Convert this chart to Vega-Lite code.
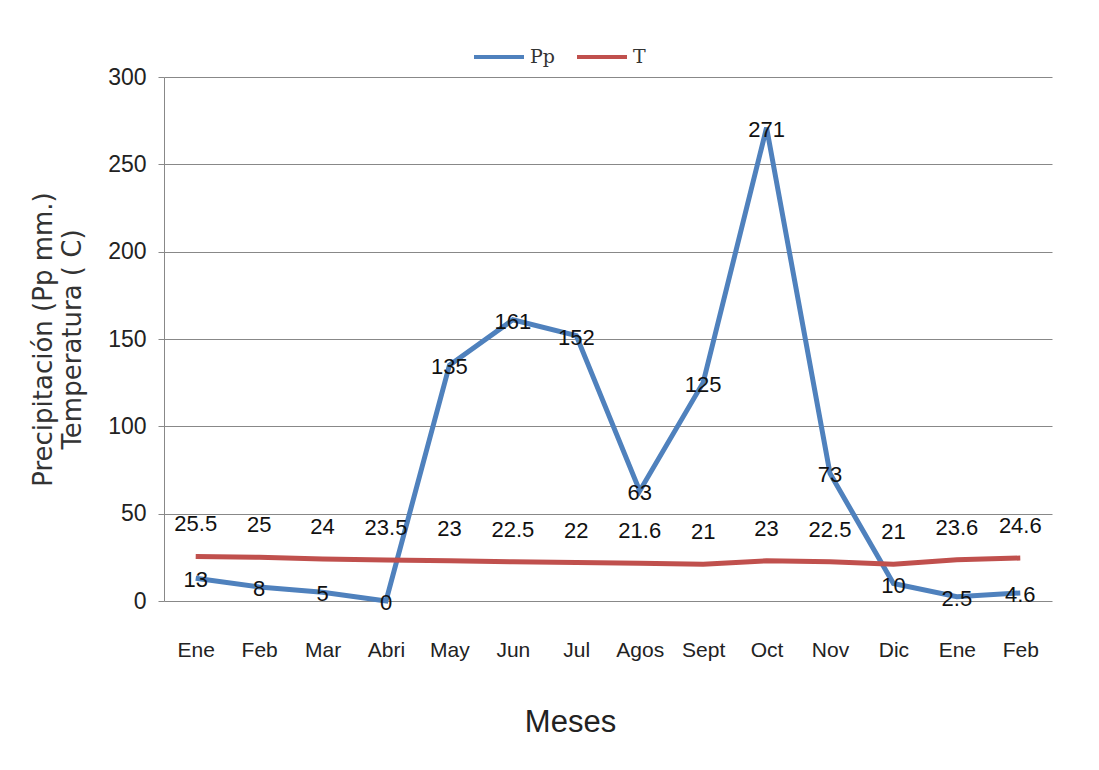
{
  "$schema": "https://vega.github.io/schema/vega-lite/v6.json",
  "width": 888,
  "height": 524,
  "padding": {"left": 30, "top": 30, "right": 40, "bottom": 20},
  "autosize": {"type": "pad"},
  "background": "white",
  "config": {
    "view": {"stroke": null},
    "font": "Liberation Sans"
  },
  "data": {
    "values": [
      {"n": 0, "mes": "Ene", "serie": "Pp", "valor": 13},
      {"n": 1, "mes": "Feb", "serie": "Pp", "valor": 8},
      {"n": 2, "mes": "Mar", "serie": "Pp", "valor": 5},
      {"n": 3, "mes": "Abri", "serie": "Pp", "valor": 0},
      {"n": 4, "mes": "May", "serie": "Pp", "valor": 135},
      {"n": 5, "mes": "Jun", "serie": "Pp", "valor": 161},
      {"n": 6, "mes": "Jul", "serie": "Pp", "valor": 152},
      {"n": 7, "mes": "Agos", "serie": "Pp", "valor": 63},
      {"n": 8, "mes": "Sept", "serie": "Pp", "valor": 125},
      {"n": 9, "mes": "Oct", "serie": "Pp", "valor": 271},
      {"n": 10, "mes": "Nov", "serie": "Pp", "valor": 73},
      {"n": 11, "mes": "Dic", "serie": "Pp", "valor": 10},
      {"n": 12, "mes": "Ene", "serie": "Pp", "valor": 2.5},
      {"n": 13, "mes": "Feb", "serie": "Pp", "valor": 4.6},
      {"n": 0, "mes": "Ene", "serie": "T", "valor": 25.5},
      {"n": 1, "mes": "Feb", "serie": "T", "valor": 25},
      {"n": 2, "mes": "Mar", "serie": "T", "valor": 24},
      {"n": 3, "mes": "Abri", "serie": "T", "valor": 23.5},
      {"n": 4, "mes": "May", "serie": "T", "valor": 23},
      {"n": 5, "mes": "Jun", "serie": "T", "valor": 22.5},
      {"n": 6, "mes": "Jul", "serie": "T", "valor": 22},
      {"n": 7, "mes": "Agos", "serie": "T", "valor": 21.6},
      {"n": 8, "mes": "Sept", "serie": "T", "valor": 21},
      {"n": 9, "mes": "Oct", "serie": "T", "valor": 23},
      {"n": 10, "mes": "Nov", "serie": "T", "valor": 22.5},
      {"n": 11, "mes": "Dic", "serie": "T", "valor": 21},
      {"n": 12, "mes": "Ene", "serie": "T", "valor": 23.6},
      {"n": 13, "mes": "Feb", "serie": "T", "valor": 24.6}
    ]
  },
  "encoding": {
    "x": {
      "field": "n",
      "type": "ordinal",
      "scale": {"type": "point", "padding": 0.5},
      "axis": {
        "title": "Meses",
        "labelExpr": "['Ene','Feb','Mar','Abri','May','Jun','Jul','Agos','Sept','Oct','Nov','Dic','Ene','Feb'][datum.value]",
        "labelAngle": 0,
        "labelFontSize": 21,
        "labelColor": "#222222",
        "labelPadding": 38,
        "ticks": false,
        "domain": false,
        "grid": false,
        "titleFontSize": 31,
        "titleFont": "Liberation Sans",
        "titleFontWeight": "normal",
        "titleColor": "#222222",
        "titlePadding": 47,
        "titleX": 406
      }
    },
    "y": {
      "field": "valor",
      "type": "quantitative",
      "scale": {"domain": [0, 300]},
      "axis": {
        "title": ["Precipitación (Pp mm.)", "Temperatura ( C)"],
        "values": [0, 50, 100, 150, 200, 250, 300],
        "labelFontSize": 23,
        "labelColor": "#222222",
        "labelPadding": 12,
        "tickSize": 6,
        "tickColor": "#888888",
        "domainColor": "#888888",
        "gridColor": "#888888",
        "gridWidth": 1,
        "titleFont": "DejaVu Sans",
        "titleFontSize": 26,
        "titleFontWeight": "normal",
        "titleColor": "#333333",
        "titleLineHeight": 29,
        "titlePadding": 22
      }
    }
  },
  "layer": [
    {
      "mark": {"type": "line", "strokeWidth": 5},
      "encoding": {
        "color": {
          "field": "serie",
          "type": "nominal",
          "scale": {"domain": ["Pp", "T"], "range": ["#4F81BD", "#C0504D"]},
          "legend": {
            "title": null,
            "orient": "none",
            "legendX": 308,
            "legendY": -47,
            "direction": "horizontal",
            "symbolType": "stroke",
            "symbolSize": 2500,
            "symbolStrokeWidth": 4,
            "labelFontSize": 19,
            "labelFont": "DejaVu Serif",
            "labelColor": "#333333",
            "columnPadding": 14,
            "labelOffset": 4
          }
        }
      }
    },
    {
      "transform": [{"filter": "datum.serie == 'Pp'"}],
      "mark": {"type": "text", "fontSize": 22, "color": "#111111", "baseline": "middle", "dy": 2},
      "encoding": {"text": {"field": "valor", "type": "quantitative"}}
    },
    {
      "transform": [{"filter": "datum.serie == 'T'"}],
      "mark": {"type": "text", "fontSize": 22, "color": "#111111", "baseline": "middle", "dy": -32},
      "encoding": {"text": {"field": "valor", "type": "quantitative"}}
    }
  ]
}
